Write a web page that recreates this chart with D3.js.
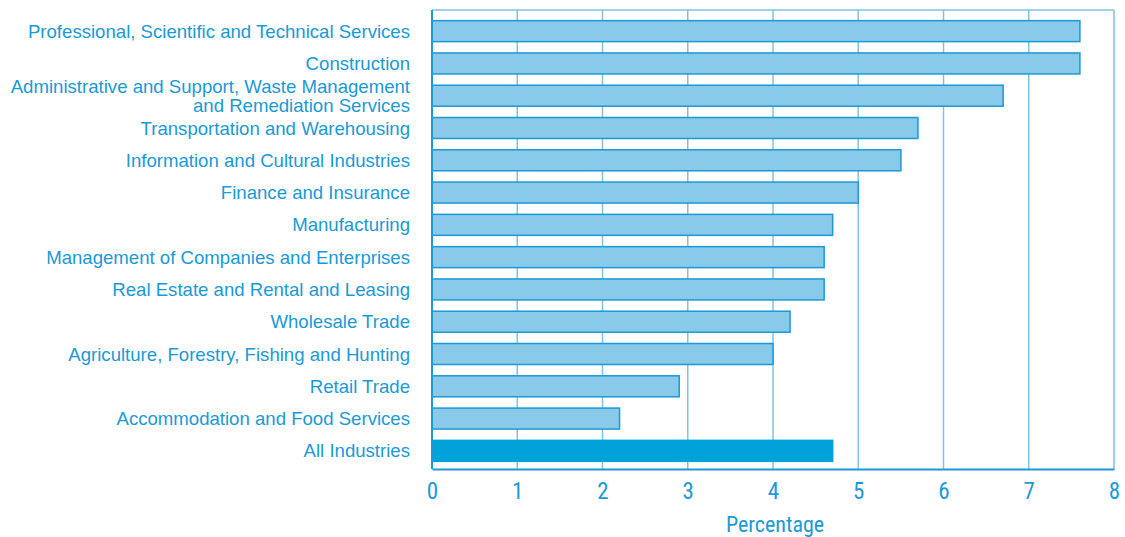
<!DOCTYPE html>
<html><head><meta charset="utf-8">
<script src="https://cdn.jsdelivr.net/npm/d3@7/dist/d3.min.js"></script>
<style>body{margin:0;background:#fff;}svg{display:block;}</style>
</head><body>
<svg id="chart" width="1125" height="537"></svg>
<script>
const categories = [
  "Professional, Scientific and Technical Services",
  "Construction",
  "Administrative and Support, Waste Management|and Remediation Services",
  "Transportation and Warehousing",
  "Information and Cultural Industries",
  "Finance and Insurance",
  "Manufacturing",
  "Management of Companies and Enterprises",
  "Real Estate and Rental and Leasing",
  "Wholesale Trade",
  "Agriculture, Forestry, Fishing and Hunting",
  "Retail Trade",
  "Accommodation and Food Services",
  "All Industries"
];
const values = [7.6, 7.6, 6.7, 5.7, 5.5, 5.0, 4.7, 4.6, 4.6, 4.2, 4.0, 2.9, 2.2, 4.7];
const xTicks = [0, 1, 2, 3, 4, 5, 6, 7, 8];
const xTitle = "Percentage";
const highlight = "All Industries";

(function() {
const svg = d3.select("#chart");
const pLeft = 432, pRight = 1114, pTop = 10, pBottom = 469;
const textColor = "#1a9ad6";

const x = d3.scaleLinear().domain([0, 8]).range([pLeft, pRight]);
const y = d3.scaleBand().domain(categories).range([15, 467]).paddingInner(0.35).paddingOuter(0.175);

// gridlines
svg.append("g").selectAll("line").data(xTicks.filter(d => d > 0)).join("line")
  .attr("x1", d => x(d)).attr("x2", d => x(d))
  .attr("y1", pTop).attr("y2", pBottom)
  .attr("stroke", "#7fc4e6").attr("stroke-width", 1.5);
// top frame
svg.append("line").attr("x1", pLeft).attr("x2", pRight).attr("y1", pTop).attr("y2", pTop)
  .attr("stroke", "#7fc4e6").attr("stroke-width", 1.5);

// bars
svg.append("g").selectAll("rect").data(categories).join("rect")
  .attr("x", x(0))
  .attr("y", d => y(d))
  .attr("width", (d, i) => x(values[i]) - x(0))
  .attr("height", y.bandwidth())
  .attr("fill", d => d === highlight ? "#00a3d9" : "#89c9e9")
  .attr("stroke", d => d === highlight ? "#00a3d9" : "#1a9ad6")
  .attr("stroke-width", 1.5);

// left axis line
svg.append("line").attr("x1", pLeft).attr("x2", pLeft).attr("y1", pTop).attr("y2", pBottom)
  .attr("stroke", "#1a9ad6").attr("stroke-width", 2);
// bottom axis
const xAxis = svg.append("g").attr("transform", `translate(0,${pBottom})`)
  .call(d3.axisBottom(x).tickValues(xTicks).tickSize(0).tickPadding(14).tickFormat(d3.format("d")));
xAxis.select(".domain").attr("stroke", "#1a9ad6").attr("stroke-width", 2);
xAxis.selectAll("text").attr("fill", textColor)
  .attr("font-family", "'Liberation Sans Narrow', 'Roboto Condensed', Roboto, sans-serif")
  .attr("font-size", 23);

// category labels
const labels = svg.append("g").selectAll("text").data(categories).join("text")
  .attr("x", 410)
  .attr("text-anchor", "end")
  .attr("fill", textColor)
  .attr("font-family", "'Liberation Sans', Arial, sans-serif")
  .attr("font-size", 18.6);
labels.each(function(d) {
  const parts = d.split("|");
  const cy = y(d) + y.bandwidth() / 2;
  const t = d3.select(this);
  const lh = 19;
  parts.forEach((p, k) => {
    t.append("tspan").attr("x", 410)
      .attr("y", cy + (k - (parts.length - 1) / 2) * lh)
      .attr("dy", "0.35em").text(p);
  });
});

// x title
svg.append("text").attr("x", (pLeft + pRight) / 2 + 2).attr("y", 532)
  .attr("text-anchor", "middle").attr("fill", textColor)
  .attr("font-family", "'Liberation Sans Narrow', 'Roboto Condensed', Roboto, sans-serif")
  .attr("font-size", 22).text(xTitle);
})();
</script>
</body></html>
